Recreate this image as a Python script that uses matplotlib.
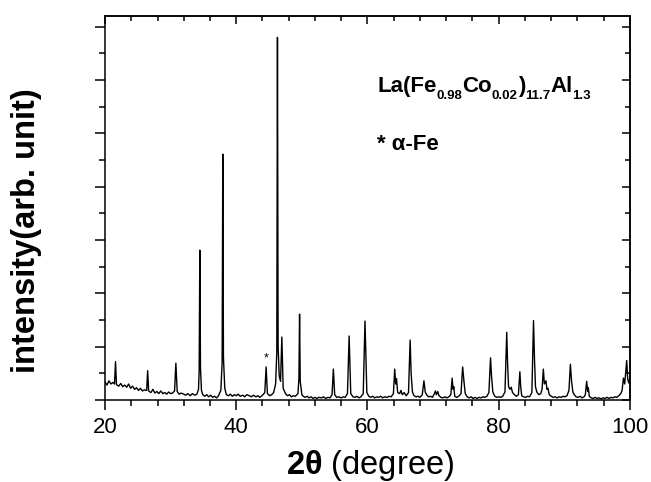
import matplotlib as mpl
mpl.use('Agg')
import matplotlib.pyplot as plt
import matplotlib.transforms as mtransforms
from matplotlib.ticker import MultipleLocator, NullFormatter

plt.rcParams['font.family'] = ['Liberation Sans', 'DejaVu Sans']
plt.rcParams['mathtext.fontset'] = 'custom'
plt.rcParams['mathtext.rm'] = 'Liberation Sans'
plt.rcParams['mathtext.it'] = 'Liberation Sans:italic'
plt.rcParams['mathtext.bf'] = 'Liberation Sans:bold'

# XRD pattern, vertices (2theta in degree, intensity in arb. units)
two_theta = [
    20.0, 20.3, 20.6, 20.9, 21.2, 21.45, 21.6, 21.75, 22.1, 22.4, 22.7, 23.0, 23.3, 23.6,
    23.9, 24.2, 24.5, 24.8, 25.1, 25.4, 25.7, 26.0, 26.35, 26.5, 26.65, 27.0, 27.3, 27.6,
    27.9, 28.2, 28.5, 28.8, 29.1, 29.4, 29.7, 30.0, 30.3, 30.6, 30.8, 31.0, 31.3, 31.6,
    32.0, 32.3, 32.6, 33.0, 33.3, 33.7, 34.0, 34.25, 34.35, 34.45, 34.55, 34.7, 34.9, 35.2,
    35.5, 35.8, 36.1, 36.4, 36.7, 37.0, 37.3, 37.65, 37.85, 37.95, 38.05, 38.25, 38.5, 38.8,
    39.1, 39.4, 39.7, 40.0, 40.3, 40.6, 41.0, 41.3, 41.6, 42.0, 42.3, 42.6, 43.0, 43.3,
    43.6, 44.0, 44.35, 44.55, 44.75, 45.1, 45.4, 45.7, 46.0, 46.18, 46.28, 46.38, 46.55, 46.75,
    46.95, 47.15, 47.5, 47.8, 48.1, 48.4, 48.7, 49.0, 49.4, 49.55, 49.65, 49.75, 50.0, 50.2,
    50.5, 50.8, 51.1, 51.4, 51.7, 52.0, 52.3, 52.6, 53.0, 53.3, 53.6, 54.0, 54.3, 54.6,
    54.8, 55.0, 55.3, 55.6, 56.0, 56.3, 56.6, 56.95, 57.2, 57.45, 57.8, 58.1, 58.4, 58.7,
    59.0, 59.35, 59.62, 59.9, 60.2, 60.5, 60.8, 61.1, 61.4, 61.7, 62.0, 62.3, 62.6, 63.0,
    63.3, 63.6, 63.95, 64.15, 64.3, 64.42, 64.6, 64.9, 65.1, 65.3, 65.6, 65.9, 66.25, 66.5,
    66.65, 66.85, 67.1, 67.4, 67.7, 68.0, 68.35, 68.6, 68.8, 69.0, 69.3, 69.6, 69.9, 70.2,
    70.35, 70.5, 70.7, 70.9, 71.2, 71.5, 71.8, 72.1, 72.4, 72.7, 72.9, 73.05, 73.15, 73.3,
    73.6, 73.9, 74.25, 74.5, 74.7, 74.9, 75.2, 75.5, 75.8, 76.1, 76.4, 76.7, 77.0, 77.3,
    77.6, 77.9, 78.2, 78.5, 78.75, 78.9, 79.1, 79.4, 79.7, 80.0, 80.3, 80.6, 80.95, 81.22,
    81.35, 81.5, 81.7, 81.9, 82.1, 82.4, 82.7, 83.0, 83.22, 83.35, 83.5, 83.8, 84.1, 84.4,
    84.7, 85.05, 85.3, 85.45, 85.6, 85.8, 86.1, 86.4, 86.6, 86.8, 86.95, 87.2, 87.35, 87.5,
    87.7, 88.0, 88.3, 88.6, 88.9, 89.2, 89.5, 89.8, 90.1, 90.4, 90.7, 90.92, 91.1, 91.3,
    91.5, 91.8, 92.1, 92.4, 92.7, 93.0, 93.2, 93.4, 93.55, 93.65, 93.8, 94.1, 94.4, 94.7,
    95.0, 95.3, 95.6, 95.9, 96.2, 96.5, 96.8, 97.1, 97.4, 97.7, 98.0, 98.3, 98.6, 98.8,
    99.0, 99.2, 99.5, 99.65, 99.8, 100.0,
]
intensity = [
    0.34, 0.28, 0.36, 0.30, 0.33, 0.30, 0.72, 0.29, 0.26, 0.31, 0.25, 0.28, 0.24, 0.30,
    0.22, 0.26, 0.20, 0.23, 0.18, 0.22, 0.17, 0.19, 0.18, 0.55, 0.17, 0.14, 0.20, 0.13,
    0.16, 0.12, 0.17, 0.12, 0.14, 0.11, 0.15, 0.12, 0.13, 0.17, 0.69, 0.16, 0.11, 0.13,
    0.11, 0.09, 0.12, 0.08, 0.12, 0.09, 0.11, 0.20, 0.55, 2.81, 0.60, 0.18, 0.10, 0.07,
    0.10, 0.06, 0.09, 0.05, 0.07, 0.04, 0.08, 0.18, 0.70, 4.61, 0.80, 0.22, 0.10, 0.08,
    0.11, 0.07, 0.10, 0.08, 0.11, 0.07, 0.09, 0.06, 0.10, 0.08, 0.06, 0.09, 0.06, 0.08,
    0.05, 0.09, 0.14, 0.62, 0.12, 0.08, 0.10, 0.14, 0.30, 0.90, 6.80, 1.00, 0.45, 0.35,
    1.18, 0.22, 0.12, 0.08, 0.10, 0.06, 0.08, 0.07, 0.12, 0.40, 1.61, 0.35, 0.10, 0.07,
    0.05, 0.07, 0.04, 0.06, 0.03, 0.05, 0.03, 0.05, 0.04, 0.06, 0.03, 0.05, 0.04, 0.10,
    0.58, 0.10, 0.05, 0.06, 0.04, 0.06, 0.05, 0.12, 1.20, 0.12, 0.06, 0.05, 0.07, 0.04,
    0.06, 0.12, 1.48, 0.14, 0.07, 0.05, 0.07, 0.04, 0.06, 0.05, 0.07, 0.04, 0.06, 0.05,
    0.07, 0.06, 0.12, 0.58, 0.30, 0.40, 0.14, 0.12, 0.18, 0.10, 0.14, 0.08, 0.14, 1.125,
    0.50, 0.15, 0.08, 0.06, 0.07, 0.05, 0.10, 0.36, 0.15, 0.10, 0.06, 0.07, 0.05, 0.12,
    0.17, 0.10, 0.16, 0.08, 0.05, 0.04, 0.06, 0.04, 0.06, 0.10, 0.41, 0.20, 0.25, 0.07,
    0.05, 0.07, 0.12, 0.62, 0.35, 0.12, 0.06, 0.04, 0.06, 0.03, 0.05, 0.03, 0.05, 0.04,
    0.06, 0.05, 0.07, 0.14, 0.79, 0.45, 0.15, 0.07, 0.05, 0.06, 0.05, 0.07, 0.15, 1.27,
    0.69, 0.25, 0.20, 0.24, 0.14, 0.10, 0.07, 0.10, 0.53, 0.25, 0.08, 0.06, 0.05, 0.07,
    0.06, 0.14, 1.49, 0.76, 0.25, 0.15, 0.10, 0.12, 0.20, 0.58, 0.30, 0.36, 0.20, 0.22,
    0.10, 0.07, 0.05, 0.06, 0.04, 0.06, 0.05, 0.07, 0.06, 0.08, 0.18, 0.67, 0.35, 0.15,
    0.10, 0.06, 0.05, 0.07, 0.04, 0.06, 0.10, 0.35, 0.16, 0.23, 0.07, 0.04, 0.03, 0.05,
    0.03, 0.04, 0.02, 0.04, 0.03, 0.05, 0.03, 0.05, 0.04, 0.06, 0.05, 0.08, 0.12, 0.18,
    0.41, 0.30, 0.74, 0.40, 0.32, 0.42,
]

x_ticks = [20, 40, 60, 80, 100]
fe_peak = (44.55, 0.78)   # asterisk marking the alpha-Fe reflection

# sample formula, (text, is_subscript)
formula = [('La(Fe', False), ('0.98', True), ('Co', False), ('0.02', True),
           (')', False), ('11.7', True), ('Al', False), ('1.3', True)]


def chem_text(fig, ax, x, y, parts, size=16, sub_size=9.5, drop=7):
    # lay the pieces out one after another, subscripts smaller and lowered
    renderer = fig.canvas.get_renderer()
    dx = 0
    for s, sub in parts:
        tr = mtransforms.offset_copy(ax.transData, fig=fig, x=dx,
                                     y=-drop if sub else 0, units='dots')
        t = ax.text(x, y, s, transform=tr, fontsize=sub_size if sub else size,
                    fontweight='bold', va='baseline')
        dx += t.get_window_extent(renderer).width


def main():
    fig = plt.figure(figsize=(6.51, 4.82), dpi=100)
    ax = fig.add_axes([0.1613, 0.1701, 0.8064, 0.7967])

    ax.plot(two_theta, intensity, color='black', lw=1.0)
    ax.set_xlim(20, 100)
    ax.set_ylim(0, 7.2)
    ax.set_xticks(x_ticks)
    ax.xaxis.set_minor_locator(MultipleLocator(4))
    ax.yaxis.set_major_locator(MultipleLocator(1))
    ax.yaxis.set_minor_locator(MultipleLocator(0.5))
    ax.yaxis.set_major_formatter(NullFormatter())
    ax.tick_params(which='major', direction='out', length=7.5, width=1.1,
                   labelsize=16, pad=5)
    ax.tick_params(which='minor', direction='out', length=4, width=1.1)

    # top / right ticks point inwards
    top = ax.secondary_xaxis('top')
    right = ax.secondary_yaxis('right')
    top.xaxis.set_major_locator(MultipleLocator(20))
    top.xaxis.set_minor_locator(MultipleLocator(4))
    top.xaxis.set_major_formatter(NullFormatter())
    right.yaxis.set_major_locator(MultipleLocator(1))
    right.yaxis.set_minor_locator(MultipleLocator(0.5))
    right.yaxis.set_major_formatter(NullFormatter())
    for sec in (top, right):
        sec.tick_params(which='major', direction='in', length=6, width=1.1)
        sec.tick_params(which='minor', direction='in', length=3.5, width=1.1)
        for sp in sec.spines.values():
            sp.set_linewidth(1.1)

    for sp in ax.spines.values():
        sp.set_linewidth(1.1)

    ax.set_xlabel(r'$\mathbf{2\theta}$ (degree)', fontsize=23.5)
    ax.xaxis.set_label_coords(0.505, -0.126)
    ax.set_ylabel('intensity(arb. unit)', fontsize=23.5, fontweight='bold')
    ax.yaxis.set_label_coords(-0.12, 0.44)

    chem_text(fig, ax, 61.45, 5.78, formula)
    ax.text(61.45, 4.69, '* α-Fe', fontsize=16, fontweight='bold', va='baseline')
    ax.text(fe_peak[0], fe_peak[1], '*', fontsize=9, ha='center', va='center')

    fig.savefig('out.png', dpi=100)


if __name__ == '__main__':
    main()
